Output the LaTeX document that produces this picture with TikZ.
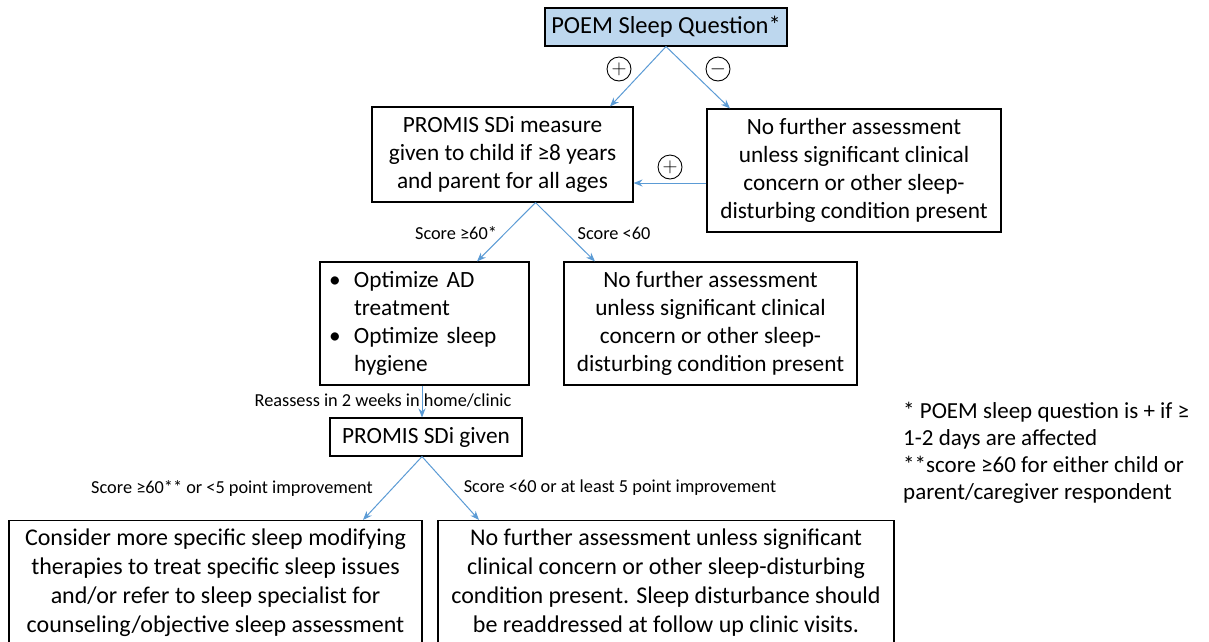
\documentclass[tikz,border=0pt]{standalone}
\usepackage{fontspec}
\setmainfont{Carlito}
\usetikzlibrary{arrows.meta,calc}
\definecolor{boxblue}{RGB}{189,215,238}
\definecolor{arrblue}{RGB}{91,155,213}
\begin{document}
\begin{tikzpicture}[x=1pt,y=-1pt,
  box/.style={draw=black,line width=1.1pt,inner sep=0pt,align=center,font=\fontsize{23.3}{28}\selectfont},
  bigbox/.style={box,font=\fontsize{24}{29}\selectfont,minimum height=125pt},
  arr/.style={draw=arrblue,line width=1pt,-{Stealth[length=9pt,width=7pt]}},
  lbl/.style={font=\fontsize{18.3}{21}\selectfont,inner sep=0pt},
  sign/.style={draw=black,circle,line width=0.9pt,minimum size=24pt,inner sep=0pt,font=\fontsize{20}{20}\selectfont},
  note/.style={font=\fontsize{23}{27}\selectfont,align=left,anchor=north west,inner sep=0pt}]
\useasboundingbox (0,0) rectangle (1209,641);
\clip (0,0) rectangle (1209,641);
\fill[white] (0,0) rectangle (1209,641);

\node[box,fill=boxblue,minimum width=242pt,minimum height=38pt,font=\fontsize{24.5}{28}\selectfont] (poem) at (666,27) {POEM Sleep Question*};
\node[box,minimum width=261pt,minimum height=95pt] (promis) at (502.5,154.5) {PROMIS SDi measure\\given to child if ≥8 years\\and parent for all ages};
\node[box,minimum width=294pt,minimum height=123pt] (nofa1) at (854,170.5) {No further assessment\\unless significant clinical\\concern or other sleep-\\disturbing condition present};
\node[box,minimum width=209pt,minimum height=123pt,align=left,text width=191pt] (opt) at (424.5,323.5) {\makebox[25pt][l]{•}Optimize AD\\\hspace*{25pt}treatment\\\makebox[25pt][l]{•}Optimize sleep\\\hspace*{25pt}hygiene};
\node[box,minimum width=293pt,minimum height=123pt] (nofa2) at (710.5,323.5) {No further assessment\\unless significant clinical\\concern or other sleep-\\disturbing condition present};
\node[box,minimum width=192pt,minimum height=38pt] (given) at (426,437) {PROMIS SDi given};
\node[bigbox,minimum width=413pt] (cons) at (215.5,583) {Consider more specific sleep modifying\\therapies to treat specific sleep issues\\and/or refer to sleep specialist for\\counseling/objective sleep assessment};
\node[bigbox,minimum width=456pt] (nofa3) at (666,583) {No further assessment unless significant\\clinical concern or other sleep-disturbing\\condition present. Sleep disturbance should\\be readdressed at follow up clinic visits.};

% top split
\draw[arr] (poem.south) -- ([xshift=107.5pt]promis.north);
\draw[arr] (poem.south) -- ([xshift=-124pt]nofa1.north);
\node[sign] (plus1) at (619,69) {$+$};
\node[sign] (minus1) at (718,69) {$-$};

% back arrow
\coordinate (yline) at (0,183);
\draw[arr] (nofa1.west |- yline) -- (promis.east |- yline);
\node[sign] (plus2) at (670,167) {$+$};

% score split
\coordinate (ps) at ([xshift=33pt]promis.south);
\draw[arr] (ps) -- ([xshift=52.5pt]opt.north);
\draw[arr] (ps) -- ([xshift=-115.5pt]nofa2.north);
\node[lbl] (l1) at (456,233) {Score ≥60*};
\node[lbl] (l2) at (614,233) {Score <60};

% reassess
\coordinate (vx) at (422,0);
\draw[arr] (opt.south -| vx) -- (given.north -| vx);
\node[lbl] (l3) at (383,401) {Reassess in 2 weeks in home/clinic};

% final split
\coordinate (gs) at (given.south -| vx);
\draw[arr] (gs) -- ([xshift=147.5pt]cons.north);
\draw[arr] (gs) -- ([xshift=-187pt]nofa3.north);
\node[lbl] (l4) at (232,488) {Score ≥60** or <5 point improvement};
\node[lbl] (l5) at (620,488) {Score <60 or at least 5 point improvement};

% footnote
\node[note] (fn) at (903,402) {* POEM sleep question is + if ≥\\1-2 days are affected\\**score ≥60 for either child or\\parent/caregiver respondent};
\end{tikzpicture}
\end{document}
